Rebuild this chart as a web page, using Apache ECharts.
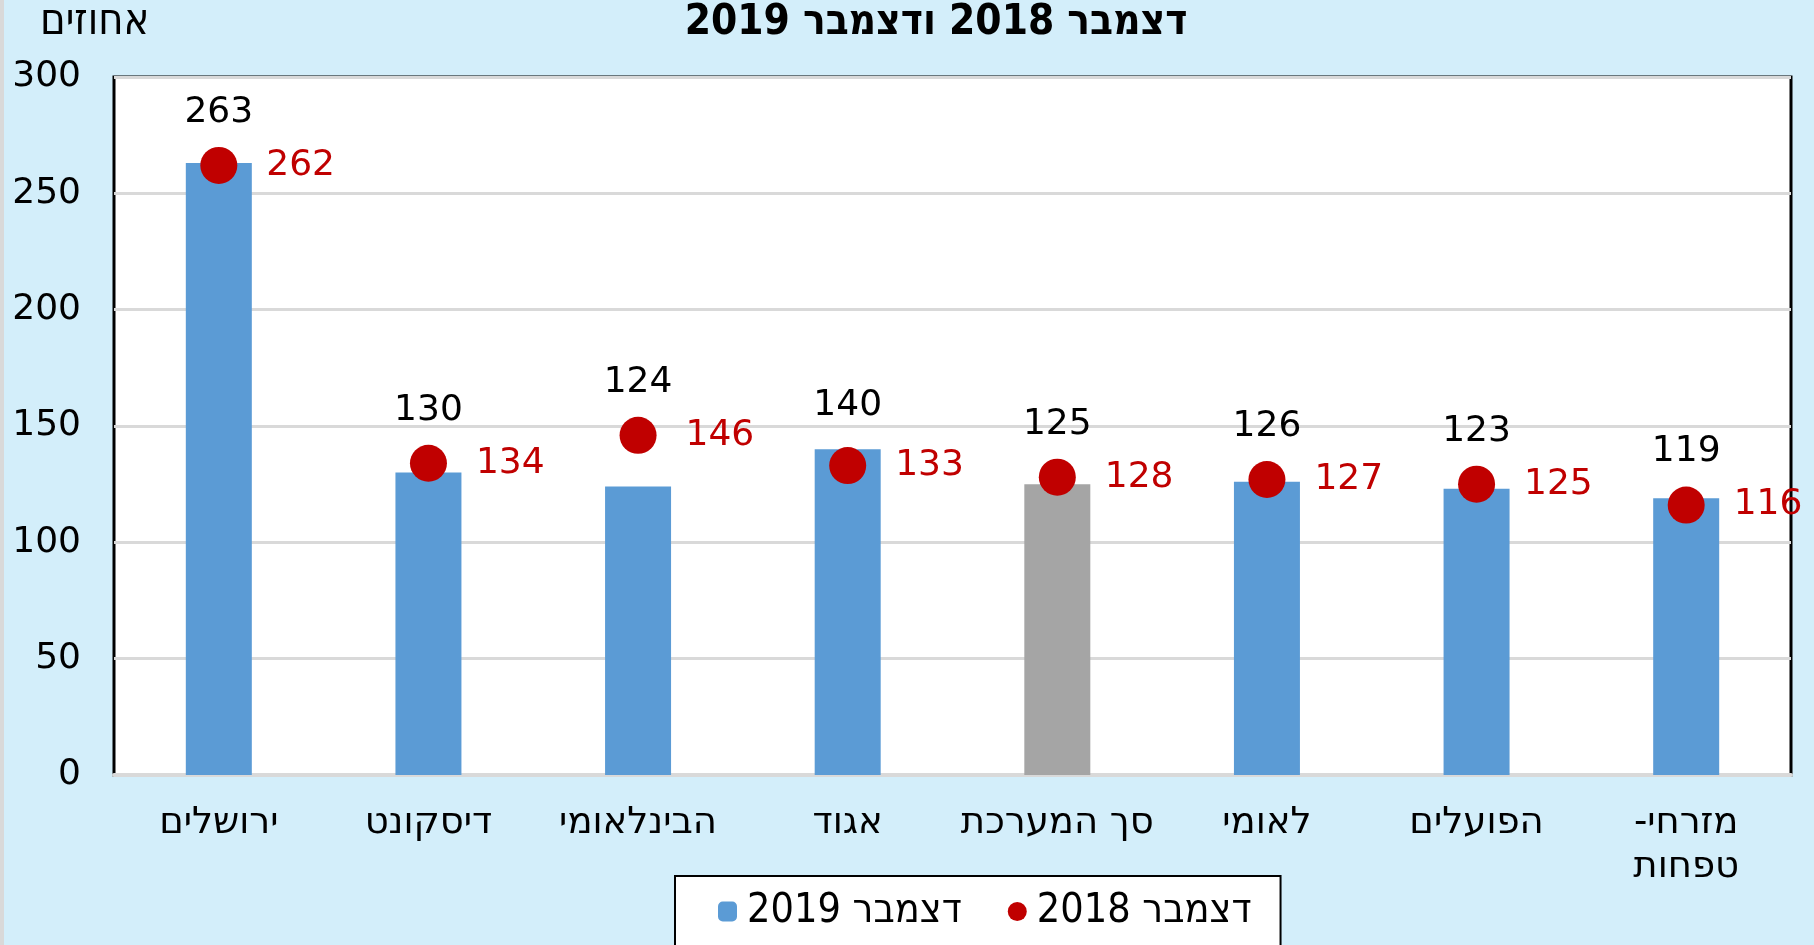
<!DOCTYPE html>
<html>
<head>
<meta charset="utf-8">
<script src="https://cdn.jsdelivr.net/npm/echarts@6/dist/echarts.min.js"></script>
<style>
  html, body { margin: 0; padding: 0; background: #d3eefa; }
  #chart { width: 1814px; height: 945px; }
</style>
</head>
<body>
<div id="chart" dir="rtl"></div>
<script>
// נתונים
const categories = ['ירושלים', 'דיסקונט', 'הבינלאומי', 'אגוד', 'סך המערכת', 'לאומי', 'הפועלים', 'מזרחי-\nטפחות'];
const dec2019 = [263, 130, 124, 140, 125, 126, 123, 119];
const dec2018 = [262, 134, 146, 133, 128, 127, 125, 116];
const yMin = 0, yMax = 300, yStep = 50;
const totalName = 'סך המערכת';

const blue = '#5b9bd5';
const grey = '#a5a5a5';
const red = '#c00000';
const mainFont = 'DejaVu Sans';
const narrowFont = '"DejaVu Sans Condensed", "DejaVu Sans", sans-serif';

const gridTop = 77, gridBottom = 170;
const pxPerUnit = (945 - gridTop - gridBottom) / (yMax - yMin);
const dotSize = 37;
const numSize = 36;

const chart = echarts.init(document.getElementById('chart'));

const barData = dec2019.map((v, i) => {
  // the 2019 label is pushed up when the 2018 dot would sit under it
  const above = Math.max(44, (dec2018[i] - v) * pxPerUnit + 53);
  const item = { value: v, label: { distance: above - 18 } };
  if (categories[i] === totalName) item.itemStyle = { color: grey };
  return item;
});

chart.setOption({
  backgroundColor: '#d3eefa',
  animation: false,
  title: [
    {
      text: 'דצמבר 2018 ודצמבר 2019',
      left: 936,
      textAlign: 'center',
      top: 2,
      padding: 0,
      textStyle: { fontFamily: narrowFont, fontWeight: 'bold', fontSize: 42, color: '#000' }
    },
    {
      text: 'אחוזים',
      left: 40,
      top: 1,
      padding: 0,
      textStyle: { fontFamily: narrowFont, fontWeight: 'normal', fontSize: 43, color: '#000' }
    }
  ],
  graphic: [
    { type: 'rect', left: 0, top: 0, shape: { width: 4, height: 945 }, style: { fill: '#d9d9d9' }, silent: true }
  ],
  legend: {
    data: ['דצמבר 2019', 'דצמבר 2018'],
    left: 675,
    top: 876,
    padding: [15, 29, 40, 43],
    itemGap: 46,
    itemWidth: 19,
    itemHeight: 20,
    backgroundColor: '#fff',
    borderColor: '#000',
    borderWidth: 2,
    borderRadius: 0,
    textStyle: { fontFamily: narrowFont, fontSize: 41, color: '#000', padding: [0, 0, 0, 5] }
  },
  grid: {
    left: 114,
    right: 23,
    top: gridTop,
    bottom: gridBottom,
    show: true,
    backgroundColor: '#fff',
    borderColor: '#000',
    borderWidth: 3
  },
  xAxis: {
    type: 'category',
    data: categories,
    axisTick: { show: false },
    axisLine: { lineStyle: { color: '#d9d9d9', width: 4 } },
    axisLabel: {
      interval: 0,
      margin: 26,
      fontFamily: mainFont,
      fontSize: 37,
      lineHeight: 44,
      color: '#000'
    }
  },
  yAxis: {
    type: 'value',
    min: yMin,
    max: yMax,
    interval: yStep,
    axisLine: { show: false },
    axisTick: { show: false },
    axisLabel: { fontFamily: mainFont, fontSize: numSize, color: '#000', margin: 33 },
    splitLine: { lineStyle: { color: '#d9d9d9', width: 3 } }
  },
  series: [
    {
      name: 'דצמבר 2019',
      type: 'bar',
      barWidth: 66,
      data: barData,
      itemStyle: { color: blue },
      label: {
        show: true,
        position: 'top',
        fontFamily: mainFont,
        fontSize: numSize,
        lineHeight: 36,
        color: '#000'
      }
    },
    {
      name: 'דצמבר 2018',
      type: 'scatter',
      symbol: 'circle',
      symbolSize: dotSize,
      data: dec2018,
      itemStyle: { color: red, opacity: 1 },
      z: 5,
      label: {
        show: true,
        position: 'right',
        distance: 29,
        fontFamily: mainFont,
        fontSize: numSize,
        color: red
      }
    }
  ]
});
</script>
</body>
</html>
